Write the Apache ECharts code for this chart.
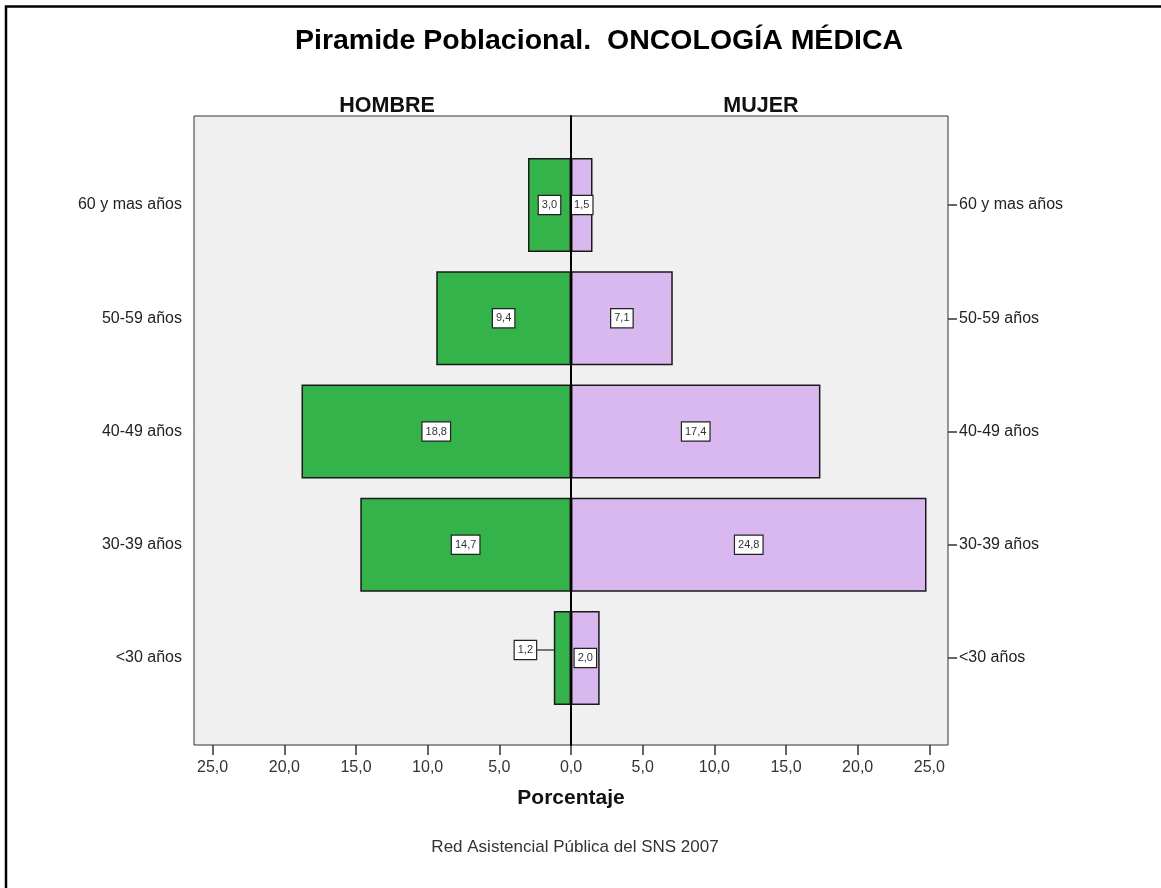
<!DOCTYPE html>
<html>
<head>
<meta charset="utf-8">
<script src="https://cdn.jsdelivr.net/npm/echarts@6/dist/echarts.min.js"></script>
<style>
  html, body { margin: 0; padding: 0; background: #fff; }
  #chart { width: 1161px; height: 888px; }
</style>
</head>
<body>
<div id="chart"></div>
<script>
// Age groups, bottom to top
const categories = ['<30 años', '30-39 años', '40-49 años', '50-59 años', '60 y mas años'];
// Percentages per sex
const hombre = [1.2, 14.7, 18.8, 9.4, 3.0];
const mujer = [2.0, 24.8, 17.4, 7.1, 1.5];
// Tick values of the percentage axis (mirrored around 0)
const tickValues = [-25, -20, -15, -10, -5, 0, 5, 10, 15, 20, 25];

const FONT = '"Liberation Sans", Arial, sans-serif';
const AXIS_MAX = 26.3;

const fmt = v => Math.abs(v).toFixed(1).replace('.', ',');

const valueLabel = {
  show: true,
  position: 'inside',
  formatter: p => fmt(p.value),
  fontFamily: FONT,
  fontSize: 11,
  color: '#333',
  backgroundColor: '#fff',
  borderColor: '#222',
  borderWidth: 1.2,
  padding: [4, 3, 3, 3]
};

const chart = echarts.init(document.getElementById('chart'), null, { renderer: 'canvas' });

chart.setOption({
  animation: false,
  backgroundColor: '#fff',
  textStyle: { fontFamily: FONT },
  graphic: [{
    type: 'rect',
    shape: { x: 6, y: 6.5, width: 1300, height: 1000 },
    style: { fill: 'none', stroke: '#000', lineWidth: 2.5 },
    silent: true
  }],
  title: [{
    text: 'Piramide Poblacional.  ONCOLOGÍA MÉDICA',
    left: 594, textAlign: 'center', top: 22,
    textStyle: { fontFamily: FONT, fontSize: 28.5, fontWeight: 'bold', color: '#000' }
  }, {
    text: 'HOMBRE',
    left: 382, textAlign: 'center', top: 90,
    textStyle: { fontFamily: FONT, fontSize: 21.5, fontWeight: 'bold', color: '#111' }
  }, {
    text: 'MUJER',
    left: 756, textAlign: 'center', top: 90,
    textStyle: { fontFamily: FONT, fontSize: 21.5, fontWeight: 'bold', color: '#111' }
  }, {
    text: 'Red Asistencial Pública del SNS 2007',
    left: 570, textAlign: 'center', top: 834,
    textStyle: { fontFamily: FONT, fontSize: 17, fontWeight: 'normal', color: '#333' }
  }],
  grid: [
    // bar area
    { left: 194, right: 213, top: 148.4, bottom: 173.4, show: false },
    // plot frame
    { left: 194, right: 213, top: 116, bottom: 143, show: true,
      backgroundColor: '#f0f0f0', borderColor: '#333', borderWidth: 1 }
  ],
  xAxis: [{
    gridIndex: 0, type: 'value', min: -AXIS_MAX, max: AXIS_MAX, show: false
  }, {
    gridIndex: 1, type: 'value', min: -AXIS_MAX, max: AXIS_MAX,
    position: 'bottom',
    axisLine: { show: false },
    splitLine: { show: false },
    axisTick: { show: true, length: 10, lineStyle: { color: '#333', width: 1.5 }, customValues: tickValues },
    axisLabel: {
      customValues: tickValues,
      formatter: v => fmt(v),
      fontFamily: FONT, fontSize: 16, color: '#333', margin: 15
    },
    name: 'Porcentaje',
    nameLocation: 'middle',
    nameGap: 43,
    nameTextStyle: { fontFamily: FONT, fontSize: 21, fontWeight: 'bold', color: '#111' }
  }],
  yAxis: [{
    gridIndex: 0, type: 'category', data: categories, position: 'left',
    axisLine: { show: false },
    axisTick: { show: true, alignWithLabel: true, length: 9, lineStyle: { color: '#333', width: 1.5 } },
    axisLabel: { fontFamily: FONT, fontSize: 16, color: '#222', margin: 12 }
  }, {
    gridIndex: 0, type: 'category', data: categories, position: 'right',
    axisLine: { show: false },
    axisTick: { show: true, alignWithLabel: true, length: 9, lineStyle: { color: '#333', width: 1.5 } },
    axisLabel: { fontFamily: FONT, fontSize: 16, color: '#222', margin: 11 }
  }, {
    // zero line across the full frame height
    gridIndex: 1, type: 'value', min: 0, max: 1, z: 10,
    axisLine: { show: true, onZero: true, lineStyle: { color: '#000', width: 2 } },
    axisTick: { show: false }, axisLabel: { show: false }, splitLine: { show: false }
  }],
  series: [{
    name: 'HOMBRE',
    type: 'bar',
    xAxisIndex: 0, yAxisIndex: 0,
    data: hombre.map(v => -v),
    barWidth: 94,
    barGap: '-100%',
    itemStyle: { color: '#34b34a', borderColor: '#1a1a1a', borderWidth: 1.5 },
    label: valueLabel,
    labelLine: { show: true, lineStyle: { color: '#222', width: 1.2 } },
    labelLayout: p => p.dataIndex === 0 ? { dx: -37, dy: -8 } : {}
  }, {
    name: 'MUJER',
    type: 'bar',
    xAxisIndex: 0, yAxisIndex: 0,
    data: mujer,
    barWidth: 94,
    barGap: '-100%',
    itemStyle: { color: '#d9b8f0', borderColor: '#1a1a1a', borderWidth: 1.5 },
    label: valueLabel
  }]
});
</script>
</body>
</html>
